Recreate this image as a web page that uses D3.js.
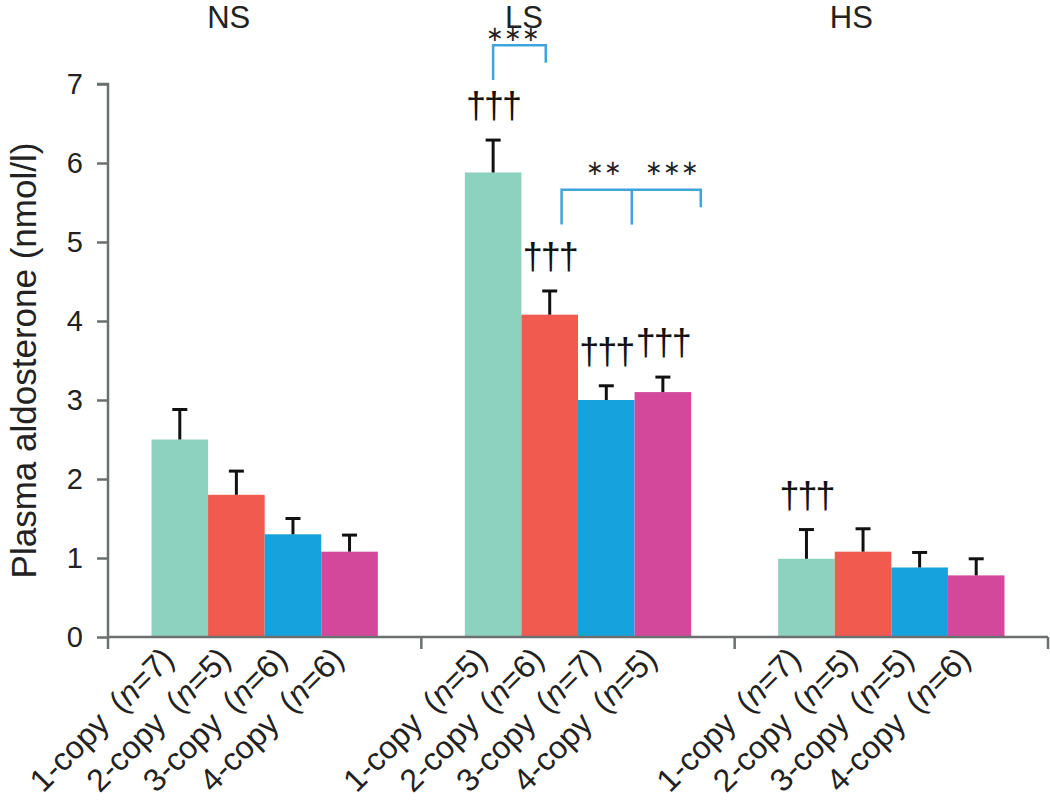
<!DOCTYPE html>
<html>
<head>
<meta charset="utf-8">
<script src="https://cdn.jsdelivr.net/npm/d3@7"></script>
<style>
  html, body { margin: 0; padding: 0; background: #ffffff; }
  svg { display: block; }
  text { font-family: "Liberation Sans", Arial, sans-serif; }
</style>
</head>
<body>
<svg id="chart" width="1050" height="806"></svg>
<script>
// ---- data ----
const groups = ["NS", "LS", "HS"];
const copies = ["1-copy", "2-copy", "3-copy", "4-copy"];
const nValues = {
  NS: [7, 5, 6, 6],
  LS: [5, 6, 7, 5],
  HS: [7, 5, 5, 6]
};
const meanNS = [2.5, 1.8, 1.3, 1.08];
const meanLS = [5.88, 4.08, 3.0, 3.1];
const meanHS = [0.99, 1.08, 0.88, 0.78];
const errNS = [0.38, 0.3, 0.2, 0.21];
const errLS = [0.41, 0.3, 0.18, 0.19];
const errHS = [0.37, 0.29, 0.19, 0.21];
const yTicks = [0, 1, 2, 3, 4, 5, 6, 7];
const daggers = [ // [group, copy index]
  ["LS", 0], ["LS", 1], ["LS", 2], ["LS", 3], ["HS", 0]
];
const colors = ["#8dd1bf", "#f05a4f", "#16a2dc", "#d4489b"];
const yLabel = "Plasma aldosterone (nmol/l)";

const means = { NS: meanNS, LS: meanLS, HS: meanHS };
const errs = { NS: errNS, LS: errLS, HS: errHS };
const data = [];
groups.forEach(g => copies.forEach((c, i) => data.push({
  group: g, copy: c, i: i, value: means[g][i], err: errs[g][i], n: nValues[g][i]
})));

// ---- layout ----
const svg = d3.select("#chart");
const x0 = d3.scaleBand().domain(groups).range([108, 1048]).padding(0);
const gw = x0.bandwidth();
const x1 = d3.scaleBand().domain(copies).range([43.5, gw - 43.5]).padding(0);
const bw = x1.bandwidth();
const y = d3.scaleLinear().domain([0, 7]).range([637, 84]);
const axisColor = "#6b6f6f";

const cx = (g, idx) => x0(g) + x1(copies[0]) + bw * (idx + 0.5);

// bars
svg.append("g").selectAll("rect").data(data).join("rect")
  .attr("x", d => x0(d.group) + x1(d.copy))
  .attr("y", d => y(d.value))
  .attr("width", bw)
  .attr("height", d => y(0) - y(d.value))
  .attr("fill", d => colors[d.i]);

// error bars (upper only)
const eb = svg.append("g").attr("stroke", "#111").attr("stroke-width", 3);
eb.selectAll("line.v").data(data).join("line").attr("class", "v")
  .attr("x1", d => cx(d.group, d.i)).attr("x2", d => cx(d.group, d.i))
  .attr("y1", d => y(d.value)).attr("y2", d => y(d.value + d.err));
eb.selectAll("line.c").data(data).join("line").attr("class", "c")
  .attr("x1", d => cx(d.group, d.i) - 7.5).attr("x2", d => cx(d.group, d.i) + 7.5)
  .attr("y1", d => y(d.value + d.err)).attr("y2", d => y(d.value + d.err));

// y axis
const yAxis = d3.axisLeft(y).tickValues(yTicks).tickSize(11).tickPadding(14).tickFormat(d3.format("d"));
const ya = svg.append("g").attr("transform", "translate(108,0)").call(yAxis);
ya.select(".domain").attr("stroke", axisColor).attr("stroke-width", 2.5)
  .attr("d", `M-11,${y(7)}H0V${y(0) + 12}`);
ya.selectAll(".tick line").attr("stroke", axisColor).attr("stroke-width", 2.5);
ya.selectAll(".tick text").attr("font-size", 29).attr("fill", "#222")
  .attr("font-family", "Liberation Sans, Arial, sans-serif");

// x baseline and group separator ticks
const xa = svg.append("g").attr("stroke", axisColor).attr("stroke-width", 2.5);
xa.append("line").attr("x1", 108).attr("x2", x0.range()[1]).attr("y1", y(0)).attr("y2", y(0));
const sepTicks = groups.map(g => x0(g) + gw);
xa.selectAll("line.t").data(sepTicks).join("line").attr("class", "t")
  .attr("x1", d => d).attr("x2", d => d).attr("y1", y(0)).attr("y2", y(0) + 12);

// x category labels
const xl = svg.append("g");
xl.selectAll("text").data(data).join("text")
  .attr("transform", d => `translate(${cx(d.group, d.i) - 4},${y(0) + 24}) rotate(-45)`)
  .attr("text-anchor", "end")
  .attr("font-size", 32)
  .attr("fill", "#222")
  .each(function(d) {
    const t = d3.select(this);
    t.append("tspan").text(d.copy + "\u2002(");
    t.append("tspan").attr("font-style", "italic").text("n");
    t.append("tspan").text("=" + d.n + ")");
  });

// group titles
svg.append("g").selectAll("text").data(groups).join("text")
  .attr("x", (g, k) => x0(g) + gw / 2 - [36, 54, 40][k])
  .attr("y", 28)
  .attr("text-anchor", "middle")
  .attr("font-size", 31)
  .attr("fill", "#222")
  .text(g => g);

// y axis title
svg.append("text")
  .attr("transform", `translate(36,${(y(0) + y(7)) / 2}) rotate(-90)`)
  .attr("text-anchor", "middle")
  .attr("font-size", 35)
  .attr("fill", "#222")
  .text(yLabel);

// daggers
svg.append("g").selectAll("text").data(daggers).join("text")
  .attr("x", d => cx(d[0], d[1]))
  .attr("y", d => y(means[d[0]][d[1]] + errs[d[0]][d[1]]) - 22)
  .attr("text-anchor", "middle")
  .attr("font-size", 36)
  .attr("letter-spacing", -2)
  .attr("font-family", "DejaVu Serif, serif")
  .attr("fill", "#111")
  .text("†††");

// significance brackets
const bracketColor = "#3fa3dd";
const br = svg.append("g").attr("fill", "none").attr("stroke", bracketColor).attr("stroke-width", 2.5);
// upper bracket: LS 1-copy vs 2-copy
br.append("path").attr("d",
  `M${cx("LS", 0)},${y(7.05)}V${y(7.49)}H${cx("LS", 0.93)}V${y(7.27)}`);
// lower bracket: 2-copy vs 3-copy vs 4-copy
br.append("path").attr("d",
  `M${cx("LS", 1.21)},${y(5.22)}V${y(5.66)}H${cx("LS", 3.67)}V${y(5.44)}`);
br.append("path").attr("d",
  `M${cx("LS", 2.45)},${y(5.22)}V${y(5.66)}`);

const stars = [
  { pos: 0.36, v: 7.54, t: "∗∗∗" },
  { pos: 1.96, v: 5.85, t: "∗∗" },
  { pos: 3.16, v: 5.85, t: "∗∗∗" }
];
svg.append("g").selectAll("text").data(stars).join("text")
  .attr("x", d => cx("LS", d.pos))
  .attr("y", d => y(d.v))
  .attr("text-anchor", "middle")
  .attr("font-size", 21)
  .attr("font-family", "DejaVu Sans, sans-serif")
  .attr("fill", "#222")
  .text(d => d.t);
</script>
</body>
</html>
